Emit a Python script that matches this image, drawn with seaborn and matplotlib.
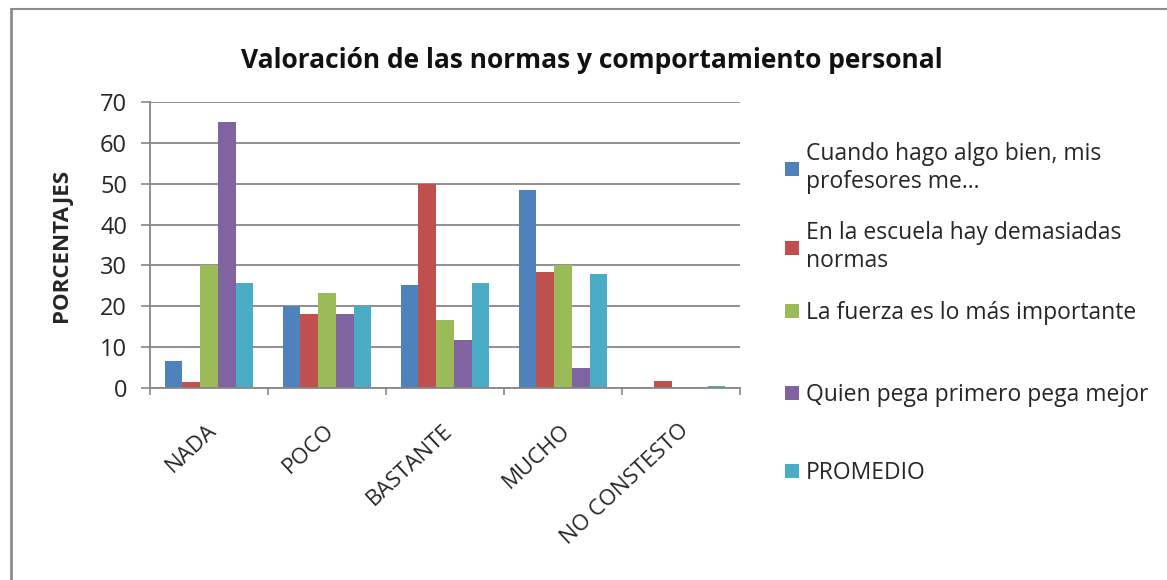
import numpy as np
import pandas as pd
import matplotlib.pyplot as plt
import seaborn as sns
from matplotlib.lines import Line2D
from matplotlib.transforms import ScaledTranslation

# Categorias del eje x
categorias = ["NADA", "POCO", "BASTANTE", "MUCHO", "NO CONSTESTO"]

# Series
series = ["Cuando hago algo bien, mis\nprofesores me...",
          "En la escuela hay demasiadas\nnormas",
          "La fuerza es lo más importante",
          "Quien pega primero pega mejor",
          "PROMEDIO"]
cuando_bien = [6.6, 20.0, 25.2, 48.5, 0.0]
demasiadas_normas = [1.5, 18.2, 50.0, 28.3, 1.6]
fuerza = [30.0, 23.3, 16.6, 30.0, 0.0]
pega_primero = [65.0, 18.2, 11.7, 5.0, 0.0]
promedio = [25.7, 20.0, 25.7, 28.0, 0.4]

colores = ["#4F81BD", "#C0504D", "#9BBB59", "#8064A2", "#4BACC6"]

sns.set_style("white")
plt.rcParams['font.family'] = ['Open Sans', 'DejaVu Sans']

df = pd.DataFrame({
    'categoria': categorias,
    series[0]: cuando_bien,
    series[1]: demasiadas_normas,
    series[2]: fuerza,
    series[3]: pega_primero,
    series[4]: promedio,
})
df_long = df.melt(id_vars='categoria', var_name='serie', value_name='porcentaje')

W, H = 1167, 580
fig = plt.figure(figsize=(W / 100, H / 100), dpi=100)
ax = fig.add_axes([150 / W, 1 - 388 / H, 590 / W, 286 / H])

sns.barplot(data=df_long, x='categoria', y='porcentaje', hue='serie',
            palette=colores, width=0.75, saturation=1, errorbar=None,
            linewidth=0, ax=ax)

handles, labels = ax.get_legend_handles_labels()
ax.get_legend().remove()

gris = '#878787'
texto = '#262626'

ax.set_ylim(0, 70)
ax.set_yticks(np.arange(0, 71, 10))
ax.set_xlim(-0.5, 4.5)
ax.yaxis.grid(True, color=gris, linewidth=1.3)
ax.set_axisbelow(True)
for s in ['top', 'right']:
    ax.spines[s].set_visible(False)
for s in ['left', 'bottom']:
    ax.spines[s].set_color(gris)
    ax.spines[s].set_linewidth(1.3)

ax.tick_params(axis='y', length=6.5, width=1.2, color=gris, pad=10,
               labelsize=17, labelcolor=texto, left=True)
ax.set_xticks(range(len(categorias)))
ax.set_xticks(np.arange(-0.5, 5, 1), minor=True)
ax.tick_params(axis='x', which='major', length=0, pad=23, labelsize=16, labelcolor=texto)
ax.tick_params(axis='x', which='minor', length=5, width=1.2, color=gris, bottom=True)
ax.set_xticklabels(categorias, rotation=43, ha='right', va='top', rotation_mode='anchor')
desplazamiento = ScaledTranslation(-2 / 72, 0, fig.dpi_scale_trans)
for lab in ax.get_xticklabels():
    lab.set_transform(lab.get_transform() + desplazamiento)

ax.set_xlabel('')
ax.set_ylabel('PORCENTAJES', fontsize=16, fontweight='bold', color=texto)
ax.yaxis.set_label_coords((72 - 150) / 590, 0.5)

fig.text(592 / W, 1 - 61 / H, 'Valoración de las normas y comportamiento personal',
         ha='center', va='center', fontsize=19, fontweight='bold', color='#111111')

# Leyenda: una entrada por posicion
y_leyenda = [168, 247, 313, 395, 473]
for h, lab, y in zip(handles, labels, y_leyenda):
    fig.legend([h], [lab], loc='center left', bbox_to_anchor=(774 / W, 1 - y / H),
               frameon=False, fontsize=16.5, handlelength=0.6, handleheight=0.6,
               handletextpad=0.3, borderpad=0, labelcolor=texto)

# Marco del grafico
fig.add_artist(Line2D([11 / W, 11 / W], [1 - 9 / H, 0], color='#8c8c8c', linewidth=2))
fig.add_artist(Line2D([11 / W, 1], [1 - 9 / H, 1 - 9 / H], color='#8c8c8c', linewidth=1.5))

fig.savefig('out.png', dpi=100, facecolor='white')
